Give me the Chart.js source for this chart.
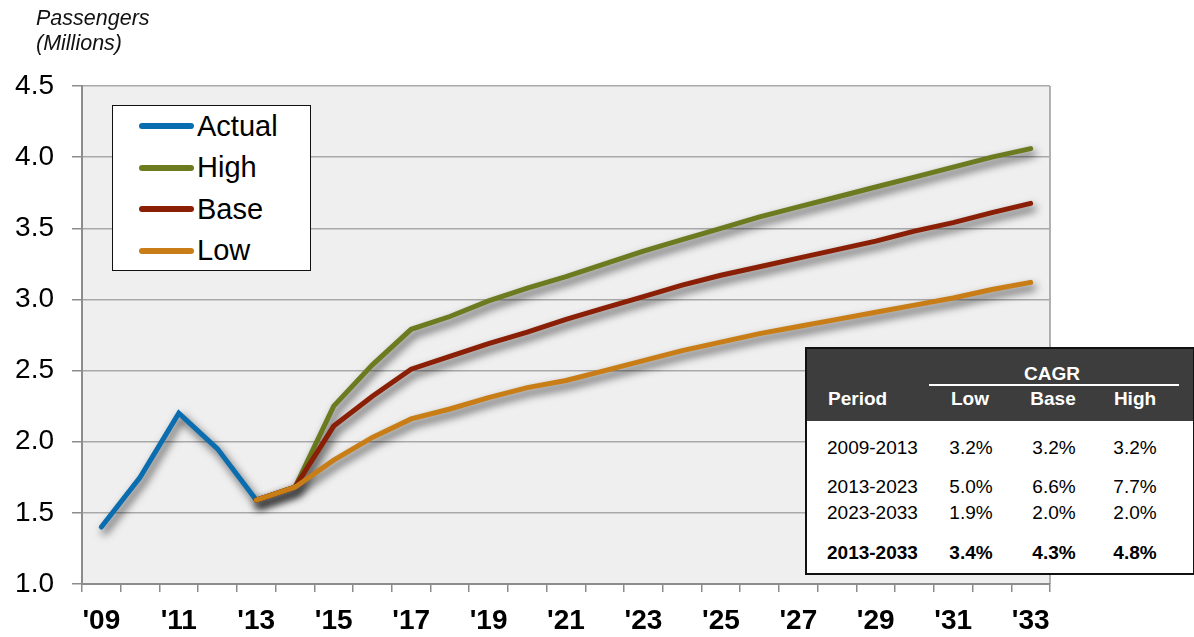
<!DOCTYPE html>
<html>
<head>
<meta charset="utf-8">
<script src="https://cdn.jsdelivr.net/npm/chart.js@4"></script>
<style>
  body { margin: 0; background: #fff; font-family: "Liberation Sans", Arial, sans-serif; }
  #wrap { position: relative; width: 1194px; height: 637px; }
  #unit { position: absolute; left: 36px; top: 6px; font-style: italic; font-size: 21.5px; line-height: 25px; color: #111; }
  #legend { position: absolute; left: 112px; top: 105px; width: 197px; height: 164px; background: #fff; border: 1.5px solid #111; }
  .item { position: absolute; left: 26px; height: 36px; display: flex; align-items: center; font-size: 29px; color: #000; }
  .swatch { width: 55px; height: 6px; border-radius: 3px; margin-right: 3px; }
  #cagr { position: absolute; left: 805px; top: 347px; width: 386px; height: 224px; background: #fff; border: 2px solid #111; font-size: 19px; color: #000; }
  #cagr .head { position: absolute; left: 0; top: 0; width: 386px; height: 72px; background: #3d3d3d; color: #fff; font-weight: bold; }
  #cagr div.t { position: absolute; white-space: nowrap; }
</style>
</head>
<body>
<div id="wrap">
  <canvas id="chart" width="1194" height="637"></canvas>
  <div id="unit">Passengers<br>(Millions)</div>
  <div id="legend"></div>
  <div id="cagr"></div>
</div>
<script>
// years on the x axis
const years = ["'09", "'10", "'11", "'12", "'13", "'14", "'15", "'16", "'17", "'18", "'19", "'20", "'21",
               "'22", "'23", "'24", "'25", "'26", "'27", "'28", "'29", "'30", "'31", "'32", "'33"];

const actual = [1.40, 1.75, 2.20, 1.95, 1.59, null, null, null, null, null, null, null, null,
                null, null, null, null, null, null, null, null, null, null, null, null];
const high = [null, null, null, null, 1.59, 1.68, 2.25, 2.54, 2.79, 2.88, 2.99, 3.08, 3.16,
              3.25, 3.34, 3.42, 3.50, 3.58, 3.65, 3.72, 3.79, 3.86, 3.93, 4.00, 4.06];
const base = [null, null, null, null, 1.59, 1.68, 2.11, 2.32, 2.51, 2.60, 2.69, 2.77, 2.86,
              2.94, 3.02, 3.10, 3.17, 3.23, 3.29, 3.35, 3.41, 3.48, 3.54, 3.61, 3.675];
const low = [null, null, null, null, 1.59, 1.68, 1.87, 2.03, 2.16, 2.23, 2.31, 2.38, 2.43,
             2.50, 2.57, 2.64, 2.70, 2.76, 2.81, 2.86, 2.91, 2.96, 3.01, 3.07, 3.12];

// CAGR table
const periods = ["2009-2013", "2013-2023", "2023-2033", "2013-2033"];
const cagrLow = ["3.2%", "5.0%", "1.9%", "3.4%"];
const cagrBase = ["3.2%", "6.6%", "2.0%", "4.3%"];
const cagrHigh = ["3.2%", "7.7%", "2.0%", "4.8%"];

const colors = { Actual: "#0a6db0", High: "#6c7b1f", Base: "#8a1f05", Low: "#c87d16" };

// legend (html box inside the plot)
const legendEl = document.getElementById("legend");
["Actual", "High", "Base", "Low"].forEach((name, i) => {
    const row = document.createElement("div");
    row.className = "item";
    row.style.top = (2 + i * 41.5) + "px";
    row.innerHTML = `<span class="swatch" style="background:${colors[name]}"></span>${name}`;
    legendEl.appendChild(row);
});

// table
const tbl = document.getElementById("cagr");
function cell(parent, text, x, y, align, bold) {
    const d = document.createElement("div");
    d.className = "t";
    d.textContent = text;
    d.style.top = (y - 11) + "px";
    if (align === "center") {
        d.style.left = (x - 60) + "px";
        d.style.width = "120px";
        d.style.textAlign = "center";
    } else {
        d.style.left = x + "px";
    }
    if (bold) d.style.fontWeight = "bold";
    parent.appendChild(d);
}
const head = document.createElement("div");
head.className = "head";
tbl.appendChild(head);
cell(head, "CAGR", 245, 25, "center", true);
const rule = document.createElement("div");
rule.style.cssText = "position:absolute;left:122px;top:35px;width:250px;height:2px;background:#fff";
head.appendChild(rule);
cell(head, "Period", 21, 50, "left", true);
cell(head, "Low", 163, 50, "center", true);
cell(head, "Base", 246, 50, "center", true);
cell(head, "High", 328, 50, "center", true);
const rowY = [99, 138, 164, 204];
periods.forEach((p, i) => {
    const b = i === 3;
    cell(tbl, p, 20, rowY[i], "left", b);
    cell(tbl, cagrLow[i], 164, rowY[i], "center", b);
    cell(tbl, cagrBase[i], 247, rowY[i], "center", b);
    cell(tbl, cagrHigh[i], 328, rowY[i], "center", b);
});

// grey plot background
const plotBg = {
    id: "plotBg",
    beforeDraw(chart) {
        const a = chart.chartArea, ctx = chart.ctx;
        ctx.save();
        ctx.fillStyle = "#efefef";
        ctx.fillRect(a.left, a.top, a.right - a.left, a.bottom - a.top);
        ctx.strokeStyle = "#9a9a9a";
        ctx.lineWidth = 1.5;
        ctx.beginPath();
        ctx.moveTo(a.right, a.top);
        ctx.lineTo(a.right, a.bottom);
        ctx.stroke();
        ctx.restore();
    }
};

// soft drop shadow under the lines
const lineShadow = {
    id: "lineShadow",
    beforeDatasetDraw(chart) {
        const ctx = chart.ctx;
        ctx.save();
        ctx.shadowColor = "rgba(0,0,0,0.7)";
        ctx.shadowBlur = 9;
        ctx.shadowOffsetX = 3;
        ctx.shadowOffsetY = 5;
    },
    afterDatasetDraw(chart) {
        chart.ctx.restore();
    }
};

function ds(label, data, order) {
    return {
        label: label,
        data: data,
        borderColor: colors[label],
        backgroundColor: colors[label],
        borderWidth: 5,
        borderCapStyle: "round",
        borderJoinStyle: "miter",
        pointRadius: 0,
        tension: 0,
        spanGaps: false,
        order: order
    };
}

new Chart(document.getElementById("chart"), {
    type: "line",
    data: {
        labels: years,
        datasets: [
            ds("Actual", actual, 4),
            ds("High", high, 3),
            ds("Base", base, 2),
            ds("Low", low, 1)
        ]
    },
    options: {
        responsive: false,
        animation: false,
        layout: { padding: { top: 86, right: 144, left: 0, bottom: 0 } },
        plugins: {
            legend: { display: false },
            tooltip: { enabled: false }
        },
        scales: {
            x: {
                offset: true,
                afterFit: (s) => { s.height = 53; },
                grid: {
                    offset: true,
                    drawOnChartArea: false,
                    drawTicks: true,
                    tickLength: 8,
                    color: "#8c8c8c",
                    lineWidth: 1.5
                },
                border: { color: "#8c8c8c", width: 2 },
                ticks: {
                    autoSkip: false,
                    maxRotation: 0,
                    padding: 12,
                    color: "#000",
                    font: { family: "Liberation Sans", size: 28, weight: "bold" },
                    callback: function (v, i) { return i % 2 === 0 ? years[i] : ""; }
                }
            },
            y: {
                min: 1.0,
                max: 4.5,
                afterFit: (s) => { s.width = 82; },
                grid: {
                    color: "#a9a9a9",
                    lineWidth: 1.5,
                    tickLength: 10,
                    tickColor: "#8c8c8c"
                },
                border: { color: "#8c8c8c", width: 2 },
                ticks: {
                    stepSize: 0.5,
                    padding: 18,
                    color: "#000",
                    font: { family: "Liberation Sans", size: 28 },
                    callback: (v) => v.toFixed(1)
                }
            }
        }
    },
    plugins: [plotBg, lineShadow]
});
</script>
</body>
</html>
